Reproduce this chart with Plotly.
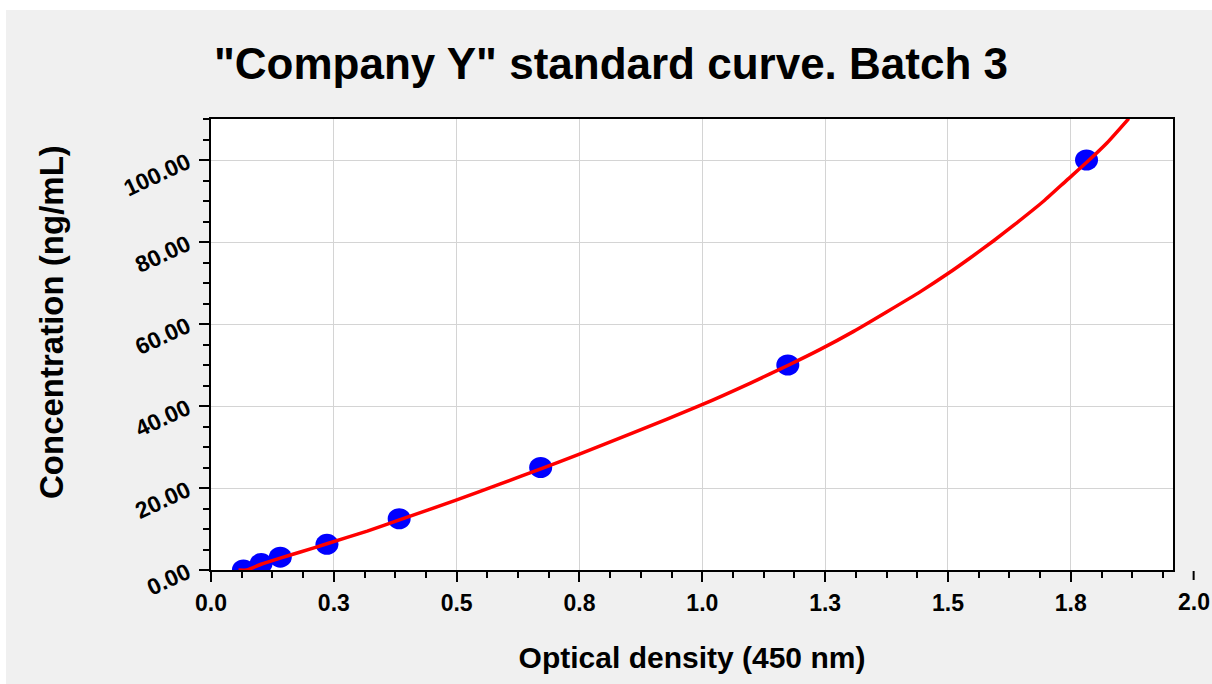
import plotly.graph_objects as go

# ---- data ----
od_points = [0.066, 0.102, 0.141, 0.236, 0.383, 0.671, 1.174, 1.782]
conc_points = [0.0, 1.56, 3.13, 6.25, 12.5, 25.0, 50.0, 100.0]

curve_od = [0.056, 0.073, 0.102, 0.141, 0.182, 0.236, 0.318, 0.385, 0.496,
            0.589, 0.674, 0.746, 0.860, 0.997, 1.098, 1.176, 1.240, 1.308,
            1.376, 1.444, 1.500, 1.545, 1.593, 1.634, 1.695, 1.742, 1.783,
            1.824, 1.868]
curve_conc = [0.0, 0.0, 1.4, 2.9, 4.4, 6.4, 9.5, 12.3, 16.9,
              21.0, 24.8, 28.1, 33.5, 40.2, 45.6, 50.0, 53.8, 58.2,
              63.0, 67.9, 72.3, 76.1, 80.3, 84.1, 90.0, 95.1, 99.5,
              104.2, 110.1]

x_tickvals = [0.0, 0.25, 0.5, 0.75, 1.0, 1.25, 1.5, 1.75, 2.0]
x_ticktext = ["0.0", "0.3", "0.5", "0.8", "1.0", "1.3", "1.5", "1.8", "2.0"]
y_tickvals = [0, 20, 40, 60, 80, 100]
y_ticktext = ["0.00", "20.00", "40.00", "60.00", "80.00", "100.00"]

title_text = '"Company Y" standard curve. Batch 3'
x_title = "Optical density (450 nm)"
y_title = "Concentration (ng/mL)"

X_RANGE = [0, 1.958]
Y_RANGE = [0, 110]

W, H = 1212, 684
ML, MR, MT, MB = 211, 39, 119, 114
PW = W - ML - MR
PH = H - MT - MB

FONT = "Liberation Sans, Arial, sans-serif"
TICK_SIZE = 23

fig = go.Figure()

# fitted curve
fig.add_trace(go.Scatter(
    x=curve_od, y=curve_conc, mode="lines",
    line=dict(color="#ff0000", width=3.5, shape="spline", smoothing=0.5),
    hoverinfo="skip", showlegend=False,
))

shapes = []
# white strips at the top and left edge of the grey panel
shapes.append(dict(type="rect", xref="paper", yref="paper", layer="below",
                   x0=-ML / PW, x1=(W - ML) / PW,
                   y0=(H - MB - 10) / PH, y1=(H - MB) / PH,
                   line=dict(width=0), fillcolor="#ffffff"))
shapes.append(dict(type="rect", xref="paper", yref="paper", layer="below",
                   x0=-ML / PW, x1=(6 - ML) / PW,
                   y0=-MB / PH, y1=(H - MB) / PH,
                   line=dict(width=0), fillcolor="#ffffff"))

# data points as ellipses anchored on data coordinates
for xv, yv in zip(od_points, conc_points):
    shapes.append(dict(type="circle", xref="x", yref="y",
                       xsizemode="pixel", ysizemode="pixel",
                       xanchor=xv, yanchor=yv,
                       x0=-11.5, x1=11.5, y0=-10.5, y1=10.5,
                       fillcolor="#0000ff", line=dict(width=0),
                       layer="between"))

# last x tick (2.0) sits beyond the plotted range
last_x = x_tickvals[-1]
last_px = (last_x - X_RANGE[0]) / (X_RANGE[1] - X_RANGE[0])
shapes.append(dict(type="line", xref="paper", yref="paper",
                   x0=last_px, x1=last_px, y0=-1 / PH, y1=-10 / PH,
                   line=dict(color="black", width=2)))

fig.update_layout(
    width=W, height=H,
    margin=dict(l=ML, r=MR, t=MT, b=MB, autoexpand=False),
    paper_bgcolor="#f0f0f0",
    plot_bgcolor="#ffffff",
    showlegend=False,
    shapes=shapes,
    title=dict(text=title_text, x=611 / W, xref="container", xanchor="center",
               y=1 - 64 / H, yref="container", yanchor="middle",
               font=dict(family=FONT, size=44, color="black", weight="bold")),
    font=dict(family=FONT, color="black"),
)

fig.update_xaxes(
    range=X_RANGE,
    tickmode="array", tickvals=x_tickvals[:-1], ticktext=x_ticktext[:-1],
    ticks="outside", ticklen=10, tickwidth=2, tickcolor="black",
    tickfont=dict(family=FONT, size=TICK_SIZE, color="black", weight="bold"),
    ticklabelstandoff=1,
    showline=True, linewidth=2, linecolor="black", mirror=True,
    showgrid=True, gridcolor="#d4d4d4", gridwidth=1,
    zeroline=False,
    minor=dict(tickmode="linear", tick0=0, dtick=0.0625, ticks="outside",
               ticklen=6, tickwidth=2, tickcolor="black", showgrid=False),
    title=dict(text=x_title, standoff=32,
               font=dict(family=FONT, size=30, color="black", weight="bold")),
    automargin=False,
)

fig.update_yaxes(
    range=Y_RANGE,
    tickmode="array", tickvals=y_tickvals, ticktext=y_ticktext,
    ticks="outside", ticklen=10, tickwidth=2, tickcolor="black",
    tickangle=-25,
    tickfont=dict(family=FONT, size=TICK_SIZE, color="black", weight="bold"),
    ticklabelstandoff=7,
    showline=True, linewidth=2, linecolor="black", mirror=True,
    showgrid=True, gridcolor="#d4d4d4", gridwidth=1,
    zeroline=False,
    minor=dict(tickmode="linear", tick0=0, dtick=5, ticks="outside",
               ticklen=6, tickwidth=2, tickcolor="black", showgrid=False),
    automargin=False,
)

fig.add_annotation(
    text=x_ticktext[-1], x=last_px, y=-32 / PH, xref="paper", yref="paper",
    showarrow=False, xanchor="center", yanchor="middle",
    font=dict(family=FONT, size=TICK_SIZE, color="black", weight="bold"),
)

fig.add_annotation(
    text=y_title, textangle=-90,
    x=(51 - ML) / PW, y=(H - MB - 322) / PH, xref="paper", yref="paper",
    showarrow=False, xanchor="center", yanchor="middle",
    font=dict(family=FONT, size=33, color="black", weight="bold"),
)

# remove the default page margin so the figure fills the window exactly
fig.write_html(
    "out.html",
    config={"displayModeBar": False, "staticPlot": True},
    post_script="document.body.style.margin='0';document.body.style.overflow='hidden';",
)
